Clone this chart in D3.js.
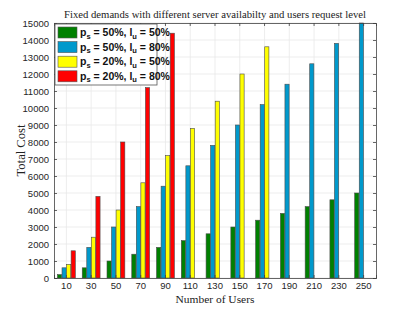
<!DOCTYPE html>
<html>
<head>
<meta charset="utf-8">
<script src="https://cdn.jsdelivr.net/npm/d3@7"></script>
<style>
  body { margin: 0; background: #fff; }
  svg { display: block; }
</style>
</head>
<body>
<div id="wrapper"></div>
<script>
// data
const users = [10, 30, 50, 70, 90, 110, 130, 150, 170, 190, 210, 230, 250];
const seriesKeys = ["s1", "s2", "s3", "s4"];
const costGreen  = [200, 600, 1000, 1400, 1800, 2200, 2600, 3000, 3400, 3800, 4200, 4600, 5000];
const costBlue   = [600, 1800, 3000, 4200, 5400, 6600, 7800, 9000, 10200, 11400, 12600, 13800, 15000];
const costYellow = [800, 2400, 4000, 5600, 7200, 8800, 10400, 12000, 13600, null, null, null, null];
const costRed    = [1600, 4800, 8000, 11200, 14400, null, null, null, null, null, null, null, null];
const yTicks = d3.range(0, 15001, 1000);
const legendLabels = [
    { ps: "50%", lu: "50%" },
    { ps: "50%", lu: "80%" },
    { ps: "20%", lu: "50%" },
    { ps: "20%", lu: "80%" }
];
const colors = ["#008000", "#0099cc", "#ffff00", "#ff0000"];

function drawChart() {
    const dimensions = {
        width: 415,
        height: 312,
        margin: { top: 23, right: 39, bottom: 34, left: 54 }
    };
    dimensions.boundedWidth = dimensions.width - dimensions.margin.left - dimensions.margin.right;
    dimensions.boundedHeight = dimensions.height - dimensions.margin.top - dimensions.margin.bottom;

    const wrapper = d3.select("#wrapper")
        .append("svg")
        .attr("width", dimensions.width)
        .attr("height", dimensions.height);

    const bounds = wrapper.append("g")
        .attr("transform", `translate(${dimensions.margin.left}, ${dimensions.margin.top})`);

    // scales
    const xScale = d3.scaleBand()
        .domain(users)
        .range([0, dimensions.boundedWidth])
        .padding(0);

    const groupWidth = xScale.bandwidth() * 0.72;
    const xSub = d3.scaleBand()
        .domain(seriesKeys)
        .range([-groupWidth / 2, groupWidth / 2])
        .paddingInner(0.08);

    const yScale = d3.scaleLinear()
        .domain([0, 15000])
        .range([dimensions.boundedHeight, 0]);

    // grid
    bounds.append("g")
        .selectAll("line")
        .data(yTicks)
        .enter().append("line")
        .attr("x1", 0)
        .attr("x2", dimensions.boundedWidth)
        .attr("y1", d => yScale(d))
        .attr("y2", d => yScale(d))
        .attr("stroke", "#e8e8e8")
        .attr("stroke-width", 0.8);

    bounds.append("g")
        .selectAll("line")
        .data(users)
        .enter().append("line")
        .attr("x1", d => xScale(d) + xScale.bandwidth() / 2)
        .attr("x2", d => xScale(d) + xScale.bandwidth() / 2)
        .attr("y1", 0)
        .attr("y2", dimensions.boundedHeight)
        .attr("stroke", "#e8e8e8")
        .attr("stroke-width", 0.8);

    // bars
    const allSeries = [costGreen, costBlue, costYellow, costRed];
    const barData = [];
    allSeries.forEach((values, si) => {
        values.forEach((v, i) => {
            if (v !== null) barData.push({ user: users[i], key: seriesKeys[si], value: v, color: colors[si] });
        });
    });

    bounds.append("g")
        .selectAll("rect")
        .data(barData)
        .enter().append("rect")
        .attr("x", d => xScale(d.user) + xScale.bandwidth() / 2 + xSub(d.key))
        .attr("y", d => yScale(d.value))
        .attr("width", xSub.bandwidth())
        .attr("height", d => dimensions.boundedHeight - yScale(d.value))
        .attr("fill", d => d.color)
        .attr("stroke", "#4a4a4a")
        .attr("stroke-width", 0.6);

    // axes
    const axisColor = "#404040";
    bounds.append("g")
        .attr("transform", `translate(0, ${dimensions.boundedHeight})`)
        .call(d3.axisBottom(xScale).tickSize(-3).tickPadding(4));

    bounds.append("g")
        .call(d3.axisLeft(yScale).tickValues(yTicks).tickFormat(d3.format("d")).tickSize(-3).tickPadding(5));

    bounds.append("g")
        .call(d3.axisTop(xScale).tickSize(-3).tickFormat(""));
    bounds.append("g")
        .attr("transform", `translate(${dimensions.boundedWidth}, 0)`)
        .call(d3.axisRight(yScale).tickValues(yTicks).tickSize(-3).tickFormat(""));

    bounds.selectAll(".domain").attr("stroke", axisColor).attr("stroke-width", 0.8);
    bounds.selectAll(".tick line").attr("stroke", axisColor).attr("stroke-width", 0.8);
    bounds.selectAll(".tick text")
        .attr("fill", "#262626")
        .style("font-family", "'Liberation Sans', Arial, sans-serif")
        .style("font-size", "9.5px");

    // labels
    wrapper.append("text")
        .attr("x", 215)
        .attr("y", 18)
        .attr("text-anchor", "middle")
        .attr("textLength", 302)
        .attr("lengthAdjust", "spacingAndGlyphs")
        .style("font-family", "'Liberation Serif', 'DejaVu Serif', serif")
        .style("font-size", "10.5px")
        .attr("fill", "#222")
        .text("Fixed demands with different server availabilty and users request level");

    wrapper.append("text")
        .attr("x", 215)
        .attr("y", 302.5)
        .attr("text-anchor", "middle")
        .attr("textLength", 79)
        .attr("lengthAdjust", "spacingAndGlyphs")
        .style("font-family", "'Liberation Serif', 'DejaVu Serif', serif")
        .style("font-size", "11px")
        .attr("fill", "#222")
        .text("Number of Users");

    wrapper.append("text")
        .attr("transform", `translate(25, ${dimensions.margin.top + dimensions.boundedHeight / 2}) rotate(-90)`)
        .attr("text-anchor", "middle")
        .attr("textLength", 52)
        .attr("lengthAdjust", "spacingAndGlyphs")
        .style("font-family", "'Liberation Serif', 'DejaVu Serif', serif")
        .style("font-size", "12px")
        .attr("fill", "#222")
        .text("Total Cost");

    // legend
    const legend = bounds.append("g")
        .attr("transform", "translate(1, 1)");

    legend.append("rect")
        .attr("width", 102)
        .attr("height", 61)
        .attr("fill", "#fff")
        .attr("stroke", "#555")
        .attr("stroke-width", 0.8);

    const legendItems = legend.selectAll(".legend-item")
        .data(legendLabels)
        .enter().append("g")
        .attr("class", "legend-item")
        .attr("transform", (d, i) => `translate(3, ${3 + i * 14.6})`);

    legendItems.append("rect")
        .attr("width", 19)
        .attr("height", 11)
        .attr("fill", (d, i) => colors[i])
        .attr("stroke", "#555")
        .attr("stroke-width", 0.6);

    const legendText = legendItems.append("text")
        .attr("x", 22)
        .attr("y", 9)
        .style("font-family", "'Liberation Sans', Arial, sans-serif")
        .style("font-weight", "bold")
        .style("font-size", "10.5px")
        .attr("fill", "#111");

    legendText.append("tspan").text("p");
    legendText.append("tspan").attr("dy", 2.5).style("font-size", "7.5px").text("s");
    legendText.append("tspan").attr("dy", -2.5).text(d => ` = ${d.ps}, l`);
    legendText.append("tspan").attr("dy", 2.5).style("font-size", "7.5px").text("u");
    legendText.append("tspan").attr("dy", -2.5).text(d => ` = ${d.lu}`);
}

drawChart();
</script>
</body>
</html>
